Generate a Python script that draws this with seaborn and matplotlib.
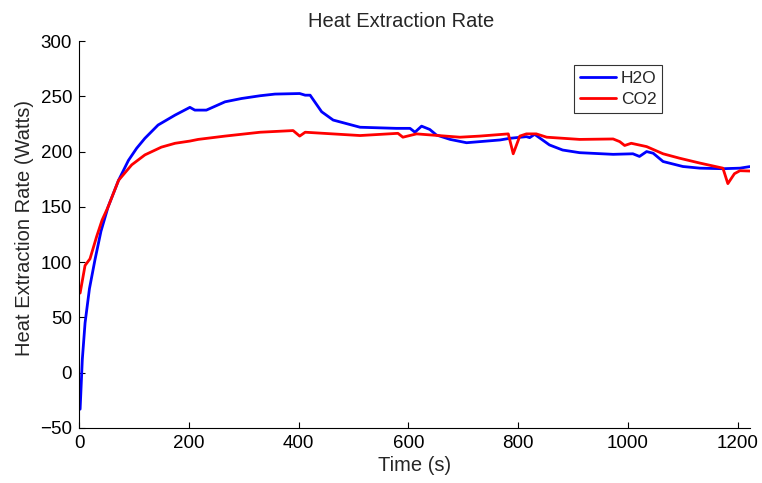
import matplotlib
matplotlib.use("Agg")
import matplotlib.pyplot as plt
import seaborn as sns
import pandas as pd

h2o_time = [2, 6, 11, 19, 29, 40, 53, 72, 90, 105, 120, 144, 175, 202, 211, 232, 266, 296, 330, 357, 402, 412, 421,
            442, 463, 512, 578, 603, 612, 624, 639, 651, 676, 706, 767, 785, 815, 821, 830, 857, 881, 912, 973, 1009,
            1021, 1034, 1046, 1064, 1100, 1131, 1173, 1204, 1222]
h2o_rate = [-33, 12, 45, 76, 102, 128, 150, 174, 192, 203, 212, 224, 233, 240, 237.5, 237.5, 245, 248, 250.5, 252,
            252.5, 251, 251, 236, 228.5, 222, 221, 221, 217.5, 223, 220, 215, 211, 208, 210.5, 212, 213.5, 212.6,
            215.6, 206, 201.4, 199, 197.5, 198, 195.6, 200, 198.5, 191, 186.5, 185, 184.5, 185, 186.4]

co2_time = [2, 11, 20, 32, 42, 53, 72, 96, 120, 150, 175, 202, 217, 266, 330, 390, 402, 412, 512, 581, 590, 615, 694,
            730, 782, 791, 803, 815, 833, 852, 912, 973, 985, 994, 1006, 1034, 1064, 1094, 1131, 1173, 1182, 1194,
            1204, 1222]
co2_rate = [72, 97, 103, 123, 138, 150, 174, 188, 197, 204, 207.5, 209.5, 211, 214, 217.5, 219, 214, 217.5, 214.5,
            216.5, 213, 216, 213, 214, 216, 198, 214, 216, 216, 213, 211, 211.4, 209, 205.5, 207.5, 204.5, 198, 194,
            189.6, 185, 171, 180, 182.7, 182.4]

series_names = ["H2O", "CO2"]
x_ticks = [0, 200, 400, 600, 800, 1000, 1200]
y_ticks = [-50, 0, 50, 100, 150, 200, 250, 300]

df = pd.concat([
    pd.DataFrame({"Time": h2o_time, "Rate": h2o_rate, "Fluid": series_names[0]}),
    pd.DataFrame({"Time": co2_time, "Rate": co2_rate, "Fluid": series_names[1]}),
], ignore_index=True)

sns.set_style("white")
plt.rcParams["font.family"] = ["Liberation Sans", "DejaVu Sans"]

fig = plt.figure(figsize=(7.62, 4.83), dpi=100)
ax = fig.add_axes([0.1037, 0.1139, 0.8803, 0.8012])

sns.lineplot(data=df, x="Time", y="Rate", hue="Fluid", palette={"H2O": "#0000ff", "CO2": "#ff0000"},
             linewidth=2.0, ax=ax, sort=False, estimator=None)

ax.set_xlim(0, 1222)
ax.set_ylim(-50, 300)
ax.set_xticks(x_ticks)
ax.set_yticks(y_ticks)
ax.tick_params(direction="in", length=4, width=0.8, colors="black", labelsize=13.5,
               left=True, bottom=True, pad=5)
for s in ["top", "right"]:
    ax.spines[s].set_visible(False)
for s in ["left", "bottom"]:
    ax.spines[s].set_color("black")
    ax.spines[s].set_linewidth(0.8)

ax.set_xlabel("Time (s)", fontsize=14.5, labelpad=3)
ax.set_ylabel("Heat Extraction Rate (Watts)", fontsize=14.5, labelpad=6)
ax.yaxis.set_label_coords(-0.067, 0.518)
ax.set_title("Heat Extraction Rate", fontsize=14.5, pad=10, x=0.48)

leg = ax.legend(loc="upper left", bbox_to_anchor=(0.753, 0.866), bbox_transform=fig.transFigure,
                fontsize=12.5, frameon=True, fancybox=False, edgecolor="black", handlelength=2.1,
                borderpad=0.35, labelspacing=0.32, handletextpad=0.25, borderaxespad=0)
leg.get_frame().set_linewidth(0.8)

fig.savefig("out.png", dpi=100)
